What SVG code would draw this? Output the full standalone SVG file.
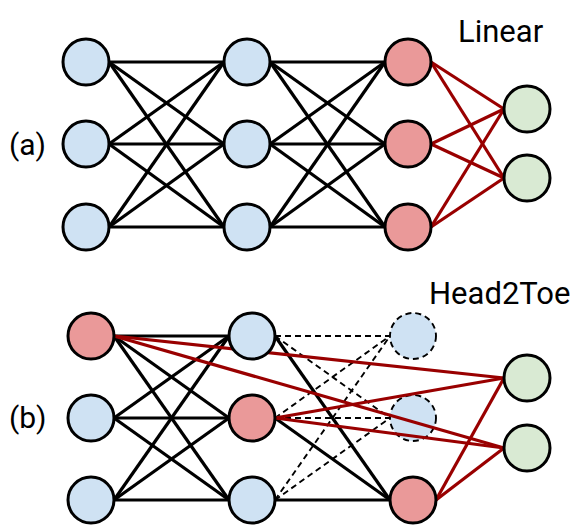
<svg xmlns="http://www.w3.org/2000/svg" width="581" height="531" viewBox="0 0 581 531">
<style>
.bg{fill:#ffffff}
.k{stroke:#000000;stroke-width:3.2;fill:none}
.d{stroke:#000000;stroke-width:1.9;stroke-dasharray:6 4;fill:none}
.r{stroke:#990000;stroke-width:3.2;fill:none}
.n{stroke:#000000;stroke-width:3}
.nd{stroke:#000000;stroke-width:1.9;stroke-dasharray:6 4}
.blue{fill:#cfe2f3}
.red{fill:#ea9999}
.green{fill:#d9ead3}
.t{font-family:Roboto,"Liberation Sans",sans-serif;font-size:31px;fill:#000000}
.lab{font-family:Roboto,"Liberation Sans",sans-serif;font-size:30px;fill:#000000}
</style>
<rect class="bg" x="0" y="0" width="581" height="531"/>
<g id="connectors">
  <g id="a-black">
    <line class="k" x1="109" y1="62" x2="224" y2="62"/>
    <line class="k" x1="109" y1="62" x2="224" y2="144"/>
    <line class="k" x1="109" y1="62" x2="224" y2="227"/>
    <line class="k" x1="109" y1="144" x2="224" y2="62"/>
    <line class="k" x1="109" y1="144" x2="224" y2="144"/>
    <line class="k" x1="109" y1="144" x2="224" y2="227"/>
    <line class="k" x1="109" y1="227" x2="224" y2="62"/>
    <line class="k" x1="109" y1="227" x2="224" y2="144"/>
    <line class="k" x1="109" y1="227" x2="224" y2="227"/>
    <line class="k" x1="270" y1="62" x2="385" y2="62"/>
    <line class="k" x1="270" y1="62" x2="385" y2="144"/>
    <line class="k" x1="270" y1="62" x2="385" y2="227"/>
    <line class="k" x1="270" y1="144" x2="385" y2="62"/>
    <line class="k" x1="270" y1="144" x2="385" y2="144"/>
    <line class="k" x1="270" y1="144" x2="385" y2="227"/>
    <line class="k" x1="270" y1="227" x2="385" y2="62"/>
    <line class="k" x1="270" y1="227" x2="385" y2="144"/>
    <line class="k" x1="270" y1="227" x2="385" y2="227"/>
  </g>
  <g id="a-red">
    <line class="r" x1="431" y1="62" x2="504" y2="109"/>
    <line class="r" x1="431" y1="62" x2="504" y2="178"/>
    <line class="r" x1="431" y1="144" x2="504" y2="109"/>
    <line class="r" x1="431" y1="144" x2="504" y2="178"/>
    <line class="r" x1="431" y1="227" x2="504" y2="109"/>
    <line class="r" x1="431" y1="227" x2="504" y2="178"/>
  </g>
  <g id="b-black">
    <line class="k" x1="114" y1="336" x2="229" y2="336"/>
    <line class="k" x1="114" y1="336" x2="229" y2="418"/>
    <line class="k" x1="114" y1="336" x2="229" y2="500"/>
    <line class="k" x1="114" y1="418" x2="229" y2="336"/>
    <line class="k" x1="114" y1="418" x2="229" y2="418"/>
    <line class="k" x1="114" y1="418" x2="229" y2="500"/>
    <line class="k" x1="114" y1="500" x2="229" y2="336"/>
    <line class="k" x1="114" y1="500" x2="229" y2="418"/>
    <line class="k" x1="114" y1="500" x2="229" y2="500"/>
    <line class="k" x1="275" y1="336" x2="390" y2="500"/>
    <line class="k" x1="275" y1="418" x2="390" y2="500"/>
    <line class="k" x1="275" y1="500" x2="390" y2="500"/>
  </g>
  <g id="b-dashed">
    <line class="d" x1="275" y1="336" x2="390" y2="336"/>
    <line class="d" x1="275" y1="336" x2="390" y2="418"/>
    <line class="d" x1="275" y1="418" x2="390" y2="336"/>
    <line class="d" x1="275" y1="418" x2="390" y2="418"/>
    <line class="d" x1="275" y1="500" x2="390" y2="336"/>
    <line class="d" x1="275" y1="500" x2="390" y2="418"/>
  </g>
</g>
<g id="b-n3a"><circle class="nd blue" cx="413" cy="336" r="23"/></g>
<g id="b-n3b"><circle class="nd blue" cx="413" cy="418" r="23"/></g>
<g id="connectors-red">
  <line class="r" x1="114" y1="336" x2="504" y2="378"/>
  <line class="r" x1="114" y1="336" x2="504" y2="448"/>
  <line class="r" x1="275" y1="418" x2="504" y2="378"/>
  <line class="r" x1="275" y1="418" x2="504" y2="448"/>
  <line class="r" x1="436" y1="500" x2="504" y2="378"/>
  <line class="r" x1="436" y1="500" x2="504" y2="448"/>
</g>
<g id="a-n1a"><circle class="n blue" cx="86" cy="62" r="23"/></g>
<g id="a-n1b"><circle class="n blue" cx="86" cy="144" r="23"/></g>
<g id="a-n1c"><circle class="n blue" cx="86" cy="227" r="23"/></g>
<g id="a-n2a"><circle class="n blue" cx="247" cy="62" r="23"/></g>
<g id="a-n2b"><circle class="n blue" cx="247" cy="144" r="23"/></g>
<g id="a-n2c"><circle class="n blue" cx="247" cy="227" r="23"/></g>
<g id="a-n3a"><circle class="n red" cx="408" cy="62" r="23"/></g>
<g id="a-n3b"><circle class="n red" cx="408" cy="144" r="23"/></g>
<g id="a-n3c"><circle class="n red" cx="408" cy="227" r="23"/></g>
<g id="a-o1"><circle class="n green" cx="527" cy="109" r="23"/></g>
<g id="a-o2"><circle class="n green" cx="527" cy="178" r="23"/></g>
<g id="b-n1a"><circle class="n red" cx="91" cy="336" r="23"/></g>
<g id="b-n1b"><circle class="n blue" cx="91" cy="418" r="23"/></g>
<g id="b-n1c"><circle class="n blue" cx="91" cy="500" r="23"/></g>
<g id="b-n2a"><circle class="n blue" cx="252" cy="336" r="23"/></g>
<g id="b-n2b"><circle class="n red" cx="252" cy="418" r="23"/></g>
<g id="b-n2c"><circle class="n blue" cx="252" cy="500" r="23"/></g>
<g id="b-n3c"><circle class="n red" cx="413" cy="500" r="23"/></g>
<g id="b-o1"><circle class="n green" cx="527" cy="378" r="23"/></g>
<g id="b-o2"><circle class="n green" cx="527" cy="448" r="23"/></g>
<g id="labels">
  <text class="t" x="458" y="42">Linear</text>
  <text class="t" x="429" y="304">Head2Toe</text>
  <text class="lab" x="9" y="155">(a)</text>
  <text class="lab" x="9" y="428">(b)</text>
</g>
</svg>
